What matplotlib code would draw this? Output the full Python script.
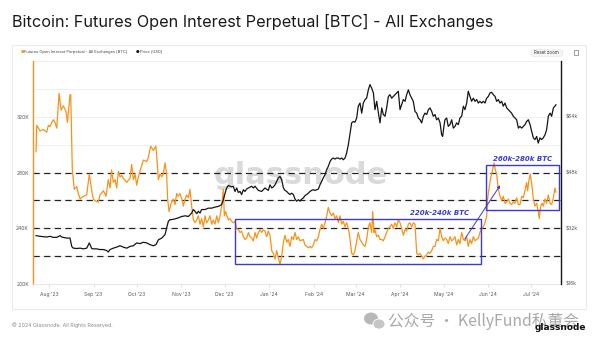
import matplotlib
matplotlib.use("Agg")
import matplotlib.pyplot as plt
import matplotlib.dates as mdates
from matplotlib.patches import Rectangle, FancyBboxPatch, Ellipse
import pandas as pd

# first day of the series, day offsets below count from here
start = pd.Timestamp("2023-07-23")

oi_days = [0, 0.5, 2.8, 5.1, 7.4, 8.6, 9.7, 10.9, 12, 13.2, 14.4, 16, 17.4, 19, 20.8, 21.8,
           23.6, 24.1, 25.2, 26.6, 28.2, 29.4, 30.6, 32.9, 35.2, 37, 38.7, 39.8, 42.1, 43.3,
           44.4, 46.8, 48.6, 50.2, 51.4, 52.5, 53.7, 54.9, 56, 57.2, 58.3, 59.5, 60.6, 63,
           65.3, 66.4, 67.6, 68.8, 69.9, 71.1, 72.2, 74.5, 76.9, 78, 79.6, 81.5, 83.3, 85,
           86.1, 87.3, 88.4, 89.6, 90.7, 91.4, 92.4, 93.8, 95.4, 96.5, 97.7, 98.8, 100,
           101.2, 102.3, 103.5, 104.6, 105.8, 106.9, 108.1, 109.3, 110.4, 111.6, 112.7,
           113.9, 115, 116.2, 117.4, 118.5, 119.7, 120.8, 122, 123.1, 124.3, 125.5, 126.6,
           127.8, 128.9, 130.1, 130.8, 131.7, 132.6, 133.6, 134.7, 135.9, 137, 138.2, 139.4,
           140.5, 141.7, 142.8, 144, 145.1, 146.3, 147.5, 148.6, 149.8, 150.9, 152.1, 153.2,
           154.4, 155.6, 156.7, 157.9, 159, 160.2, 161.3, 162.5, 163.7, 164.8, 166, 167.1,
           168.3, 169.4, 170.6, 171.8, 172.9, 174.1, 175.2, 176.4, 177.5, 178.7, 179.9, 181,
           182.2, 183.3, 185.6, 186.8, 187.9, 189.1, 190.3, 191.4, 192.6, 193.8, 194.9,
           196.1, 197.2, 198.4, 199.5, 200.7, 201.9, 203, 204.2, 205.3, 206.5, 207.6, 208.8,
           210, 211.1, 212.3, 213.4, 214.6, 215.7, 216.9, 218.1, 219.2, 220.4, 221.5, 222.7,
           223.8, 225, 226.2, 227.3, 228.5, 229.6, 230.8, 231.9, 233.1, 233.8, 234.7, 235.4,
           236.6, 237.8, 238.9, 240.1, 241.2, 242.4, 243.5, 244.7, 245.8, 247, 248.1, 249.3,
           250.5, 251.6, 252.8, 253.9, 255.1, 256.3, 257.4, 258.6, 259.7, 260.9, 262, 263.2,
           264.4, 265.5, 266.7, 267.8, 269, 270.1, 271.3, 272.5, 273.6, 274.8, 275.9, 277.1,
           278.2, 279.4, 280.6, 281.7, 282.9, 284, 285.2, 286.3, 287.5, 288.7, 289.8, 291,
           292.1, 293.3, 294.4, 295.6, 296.8, 297.9, 299.1, 300.2, 301.4, 302.5, 303.7,
           304.9, 306, 307.2, 308.3, 309.5, 310.6, 311.8, 313, 313.6, 314.8, 315.9, 317.1,
           318.1, 319, 319.9, 321.1, 322.2, 323.4, 324.5, 325.7, 326.9, 328, 329.2, 330.3,
           331.5, 332.6, 333.8, 335, 336.1, 337.3, 338.4, 339.6, 340.7, 341.4, 342.4, 343.3,
           344.4, 345.4, 346.5, 347.7, 348.8, 349.5, 350.5, 351.4, 352.3, 353.5, 354.6,
           355.8, 357, 358.1, 359.3, 360.4, 361.1]
oi_k = [295, 314, 310, 311, 309, 314, 313, 316, 318, 316, 312, 337, 325, 328, 324, 316,
        336, 336, 282, 268, 270, 265, 261, 263, 264, 279, 267, 261, 259, 259,
        264, 267, 263, 275, 269, 282, 273, 275, 269, 281, 277, 278, 276, 273,
        276, 286, 275, 279, 271, 277, 281, 289, 288, 291, 299, 296, 299, 275,
        279, 277, 279, 287, 279, 261, 252, 258, 261, 257, 265, 263, 265,
        261, 256, 261, 264, 262, 268, 256, 246, 244, 246, 249,
        243, 247, 241, 249, 244, 246, 249, 243, 246, 243, 249, 244,
        249, 256, 268, 249, 252, 249, 246, 247, 245, 244, 245, 240,
        239, 237, 238, 234, 232, 233, 237, 234, 233, 231, 237, 233,
        237, 239, 237, 239, 238, 234, 238, 235, 224, 222, 218, 224,
        219, 214, 220, 230, 235, 230, 232, 227, 234, 232, 237, 232,
        234, 231, 232, 228, 227, 226, 227, 226, 228, 232, 231,
        234, 239, 243, 240, 244, 249, 255, 251, 249, 251, 247, 249,
        244, 249, 243, 245, 241, 244, 240, 232, 222, 221, 224, 231,
        237, 232, 230, 228, 227, 232, 241, 244, 237, 252, 237, 239,
        234, 235, 232, 232, 231, 234, 237, 240, 241, 243, 240, 244,
        241, 246, 244, 240, 235, 239, 238, 243, 244, 241, 244, 243,
        222, 221, 222, 220, 218, 220, 221, 223, 222, 224, 227, 227,
        232, 231, 240, 234, 231, 233, 232, 229, 234, 231, 232, 234,
        228, 232, 229, 237, 232, 231, 234, 227, 232, 229, 234,
        231, 232, 233, 237, 240, 241, 244, 249, 261, 270, 277, 282,
        287, 282, 279, 268, 263, 260, 263, 258, 259, 261, 258, 257,
        259, 258, 262, 257, 257, 263, 262, 267, 273, 267, 275, 279,
        271, 261, 256, 258, 252, 247, 256, 258, 256, 261, 258,
        264, 258, 257, 262, 269, 266]

price_days = [0, 2.8, 7.4, 9.7, 12, 14.4, 16.7, 17.8, 21.3, 23.6, 24.8, 25.9, 28.2, 30.6,
              32.9, 35.2, 37, 38.7, 39.8, 42.1, 44.4, 46.8, 49.1, 50.2, 51.4, 53.7, 56, 58.3,
              60.6, 63, 65.3, 67.6, 69.9, 72.2, 74.5, 76.9, 79.2, 81.5, 83.3, 85, 87.3, 89.6,
              90.7, 91.9, 93, 94.2, 96.5, 98.8, 101.2, 103.5, 105.8, 108.1, 109.3, 110.4,
              111.6, 112.7, 113.9, 115, 117.4, 119.7, 122, 124.3, 126.6, 128.9, 130.1, 131.3,
              132.4, 133.6, 135.9, 137, 138.2, 139.4, 140.5, 141.7, 142.8, 144, 145.1, 146.3,
              147.5, 149.8, 150.9, 152.1, 154.4, 156.7, 159, 161.3, 162.5, 163.7, 164.8, 166,
              168.3, 169.4, 170.6, 171.8, 172.9, 174.1, 175.2, 176.4, 177.5, 178.7, 179.9, 181,
              182.2, 183.3, 184.5, 185.6, 186.8, 187.9, 189.1, 190.3, 191.4, 192.6, 193.8,
              194.9, 196.1, 197.2, 198.4, 199.5, 200.7, 201.9, 203, 204.2, 205.3, 206.5, 207.6,
              208.8, 210, 211.1, 212.3, 213.4, 214.6, 215.7, 216.9, 218.1, 219.2, 220.4, 221.5,
              222.7, 223.8, 225, 226.2, 227.3, 228.5, 229.6, 230.8, 231.9, 233.1, 234.3, 235.4,
              236.6, 237.8, 238.9, 240.1, 241.2, 242.4, 243.5, 244.7, 245.8, 247, 248.1, 249.3,
              250.5, 251.6, 252.8, 253.9, 255.1, 256.3, 257.4, 258.6, 259.7, 260.9, 262, 263.2,
              264.4, 265.5, 266.7, 267.8, 269, 270.1, 271.3, 272.5, 273.6, 274.8, 275.9, 277.1,
              278.2, 279.4, 280.6, 281.7, 282.4, 283.3, 284, 285.2, 286.3, 287.5, 288.7, 289.8,
              291, 292.1, 293.3, 294.4, 295.6, 296.8, 297.9, 299.1, 300.2, 301.4, 302.5, 303.7,
              304.9, 306, 307.2, 308.3, 309.5, 310.6, 311.8, 313, 314.1, 315.3, 316.4, 317.6,
              318.8, 319.9, 321.1, 322.2, 323.4, 324.5, 325.7, 326.9, 328, 329.2, 330.3, 331.5,
              332.6, 333.8, 335, 336.1, 337.3, 338.4, 339.6, 340.7, 341.9, 343.1, 344.2, 345.4,
              346.5, 347.7, 348.8, 350, 351.1, 352.3, 353.5, 354.6, 355.8, 357, 358.1, 359.3,
              360.4, 361.1]
price_k = [29.9, 29.7, 29.5, 29.7, 29.4, 29.4, 29.9, 29.5, 29.2, 29.2, 26.8, 26.3, 26.2, 26.3,
           26.1, 26.3, 27.8, 26.2, 26.1, 26.1, 25.9, 25.9, 25.6, 25.2, 25.9, 26.3, 26.6, 27.0,
           26.6, 26.3, 26.8, 27.0, 27.8, 27.6, 28.0, 27.8, 27.3, 27.0, 27.3, 28.7, 29.2, 30.2,
           32.1, 34.0, 34.5, 34.5, 34.7, 35.0, 35.4, 35.6, 35.4, 36.4, 37.4, 36.9,
           36.2, 36.9, 36.4, 37.4, 37.4, 37.8, 37.8, 38.1, 38.3, 38.8, 40.2, 42.1,
           43.6, 44.3, 43.9, 44.1, 42.6, 43.6, 42.3, 42.6, 41.7, 43.1, 42.6, 43.3,
           43.6, 44.1, 43.6, 44.1, 42.9, 42.6, 43.6, 42.9, 44.5, 43.6, 43.9, 44.5,
           46.5, 46.9, 46.0, 43.6, 42.9, 42.6, 42.1, 41.7, 42.1, 41.7, 40.4, 39.8,
           40.2, 39.8, 40.4, 40.7, 41.4, 41.7, 42.1, 42.6, 42.9, 43.1, 42.9,
           43.1, 43.3, 44.5, 45.5, 46.5, 47.4, 48.9, 49.8, 51.2, 51.9, 52.2, 51.9,
           52.2, 52.2, 51.9, 52.2, 51.7, 52.2, 53.6, 56.0, 59.4, 62.3, 62.7, 62.5,
           63.7, 67.1, 68.0, 65.1, 68.0, 69.0, 69.4, 71.8, 73.3, 72.3, 70.9, 66.1,
           68.5, 65.1, 62.3, 66.6, 64.7, 64.2, 66.6, 69.9, 70.4, 69.4, 69.9, 70.4,
           70.9, 71.4, 66.1, 67.5, 69.0, 68.5, 70.4, 71.8, 70.4, 69.4, 68.5, 65.6,
           65.1, 63.7, 63.2, 62.3, 64.2, 65.1, 64.7, 66.1, 66.6, 65.6, 64.2, 64.7,
           63.2, 63.7, 62.3, 58.9, 58.4, 61.3, 63.2, 63.7, 61.3, 61.8, 63.2, 60.8,
           61.3, 62.3, 61.8, 63.7, 64.2, 67.1, 66.1, 68.0, 71.4, 69.9, 68.5, 69.4,
           68.5, 69.0, 68.0, 68.5, 68.0, 68.5, 68.0, 69.4, 69.9, 70.9, 71.1, 70.4,
           69.9, 68.5, 69.0, 68.0, 68.5, 67.1, 68.0, 66.6, 66.1, 65.6, 65.1, 64.2,
           63.7, 63.2, 60.8, 61.3, 60.8, 61.3, 61.8, 62.7, 63.2, 61.8, 59.9, 58.0,
           57.5, 58.4, 56.5, 58.0, 57.5, 58.0, 58.9, 60.3, 64.2, 65.1, 64.2, 66.6,
           67.1, 67.5]

oi_ticks = [200, 220, 240, 260, 280, 300, 320, 340, 360]
oi_labels = ["200K", "", "240K", "", "280K", "", "320K", "", ""]
price_ticks = [16, 32, 48, 64]
price_labels = ["$16k", "$32k", "$48k", "$64k"]
band_levels = [220, 240, 260, 280]

ORANGE = "#f7931a"
BLUE = "#3a3ad6"
W, H = 600, 346

plt.rcParams["font.family"] = ["Inter", "DejaVu Sans"]


def to_dates(days):
    return start + pd.to_timedelta(days, unit="D")


def dnum(day):
    return mdates.date2num(start + pd.Timedelta(days=day))


def fx(px):
    return px / W


def fy(py):
    return 1 - py / H


fig = plt.figure(figsize=(6, 3.46), dpi=100)

# white card behind the chart
fig.add_artist(Rectangle((fx(12), fy(309)), fx(586) - fx(12), fy(45) - fy(309),
                         transform=fig.transFigure, facecolor="white",
                         edgecolor="#ebebeb", lw=0.8, zorder=-1))

ax = fig.add_axes([fx(33), fy(284), fx(561) - fx(33), fy(61.3) - fy(284)])
ax2 = ax.twinx()

# watermark
ax.text(fx(300.5), fy(184), "glassnode", transform=fig.transFigure, ha="center",
        va="baseline", fontsize=22, fontweight="bold", color="#dadada",
        family="DejaVu Sans", zorder=0.5)

ax.plot(to_dates(oi_days), oi_k, color=ORANGE, lw=0.9, zorder=3)
ax2.plot(to_dates(price_days), price_k, color="#151515", lw=0.9)

for lv in band_levels:
    ax.axhline(lv, color="#222222", lw=0.9, ls=(0, (5, 3.5)), zorder=2)

# highlighted ranges
ax.add_patch(Rectangle((dnum(138.4), 214.6), dnum(309) - dnum(138.4), 246.6 - 214.6,
                       fill=False, ec=BLUE, lw=1.0, zorder=5))
ax.add_patch(Rectangle((dnum(312.5), 253.4), dnum(363.4) - dnum(312.5), 285.5 - 253.4,
                       fill=False, ec=BLUE, lw=1.0, zorder=5))
ax.text(dnum(280), 250.8, "220k-240k BTC", ha="center", va="center", color=BLUE,
        fontsize=5, fontweight="bold", style="italic", family="DejaVu Sans", zorder=6)
ax.text(dnum(338), 290, "260k-280k BTC", ha="center", va="center", color=BLUE,
        fontsize=5, fontweight="bold", style="italic", family="DejaVu Sans", zorder=6)
ax.annotate("", xy=(dnum(323.4), 272.6), xytext=(dnum(296.7), 230.6),
            arrowprops=dict(arrowstyle="-|>", color=BLUE, lw=0.7, mutation_scale=4),
            zorder=6)

ax.set_xlim(to_dates(-2.1), to_dates(364.6))
ax.set_ylim(200, 360)
ax.set_yticks(oi_ticks)
ax.set_yticklabels(oi_labels)
ax2.set_ylim(16, 80)
ax2.set_yticks(price_ticks)
ax2.set_yticklabels(price_labels)

ax.xaxis.set_major_locator(mdates.MonthLocator())
ax.xaxis.set_major_formatter(mdates.DateFormatter("%b '%y"))
ax.tick_params(axis="x", length=2, color="#e2e2e2", labelsize=3.6, labelcolor="#555555", pad=4)
ax.tick_params(axis="y", length=0, labelsize=3.6, labelcolor="#555555", pad=3)
ax2.tick_params(axis="y", length=0, labelsize=3.6, labelcolor="#555555", pad=3)
ax.grid(axis="y", color="#ededed", lw=0.6)
ax.set_axisbelow(True)

for s in ["top", "right"]:
    ax.spines[s].set_visible(False)
ax.spines["left"].set_color(ORANGE)
ax.spines["left"].set_linewidth(1.0)
ax.spines["bottom"].set_color("#e3e3e3")
ax.spines["bottom"].set_linewidth(0.6)
for s in ["top", "left", "bottom"]:
    ax2.spines[s].set_visible(False)
ax2.spines["right"].set_color("#151515")
ax2.spines["right"].set_linewidth(1.0)

# title, legend, header button
fig.text(fx(12), fy(22), "Bitcoin: Futures Open Interest Perpetual [BTC] - All Exchanges",
         fontsize=11.7, color="#1a1a1a", va="center")
fig.text(fx(20.5), fy(51.5), "●", color=ORANGE, fontsize=3, va="center", family="DejaVu Sans")
fig.text(fx(24), fy(51.5), "Futures Open Interest Perpetual - All Exchanges [BTC]",
         fontsize=2.9, color="#444444", va="center")
fig.text(fx(136), fy(51.5), "●", color="#111111", fontsize=3, va="center", family="DejaVu Sans")
fig.text(fx(140), fy(51.5), "Price [USD]", fontsize=2.9, color="#444444", va="center")
fig.add_artist(FancyBboxPatch((fx(531), fy(56.3)), fx(562.5) - fx(531), fy(49.7) - fy(56.3),
                              boxstyle="round,pad=0,rounding_size=0.004",
                              transform=fig.transFigure, facecolor="#f6f6f6",
                              edgecolor="#e6e6e6", lw=0.5))
fig.text(fx(546.7), fy(53), "Reset zoom", fontsize=3.2, color="#333333", ha="center", va="center")
fig.add_artist(Rectangle((fx(573.5), fy(55)), fx(578) - fx(573.5), fy(50.5) - fy(55),
                         transform=fig.transFigure, fill=False, ec="#777777", lw=0.5))

# footer
fig.text(fx(12), fy(325), "© 2024 Glassnode. All Rights Reserved.", fontsize=3.8,
         color="#8a8a8a", va="center")
fig.add_artist(Ellipse((fx(371), fy(318.5)), fx(14) - fx(0), fy(0) - fy(12),
                       transform=fig.transFigure, facecolor="#b8b8b8", ec="none"))
fig.add_artist(Ellipse((fx(379), fy(324)), fx(12) - fx(0), fy(0) - fy(10),
                       transform=fig.transFigure, facecolor="#c6c6c6", ec="white", lw=0.6))
fig.text(fx(388), fy(321.5), "公众号 · KellyFund私董会", fontsize=11.3, color="#a8a8a8",
         va="center", family=["Noto Sans CJK SC", "DejaVu Sans"])
fig.text(fx(586), fy(327), "glassnode", fontsize=6.5, fontweight="bold", color="#111111",
         ha="right", va="center", family="DejaVu Sans", zorder=5)

fig.savefig("out.png", dpi=100)
